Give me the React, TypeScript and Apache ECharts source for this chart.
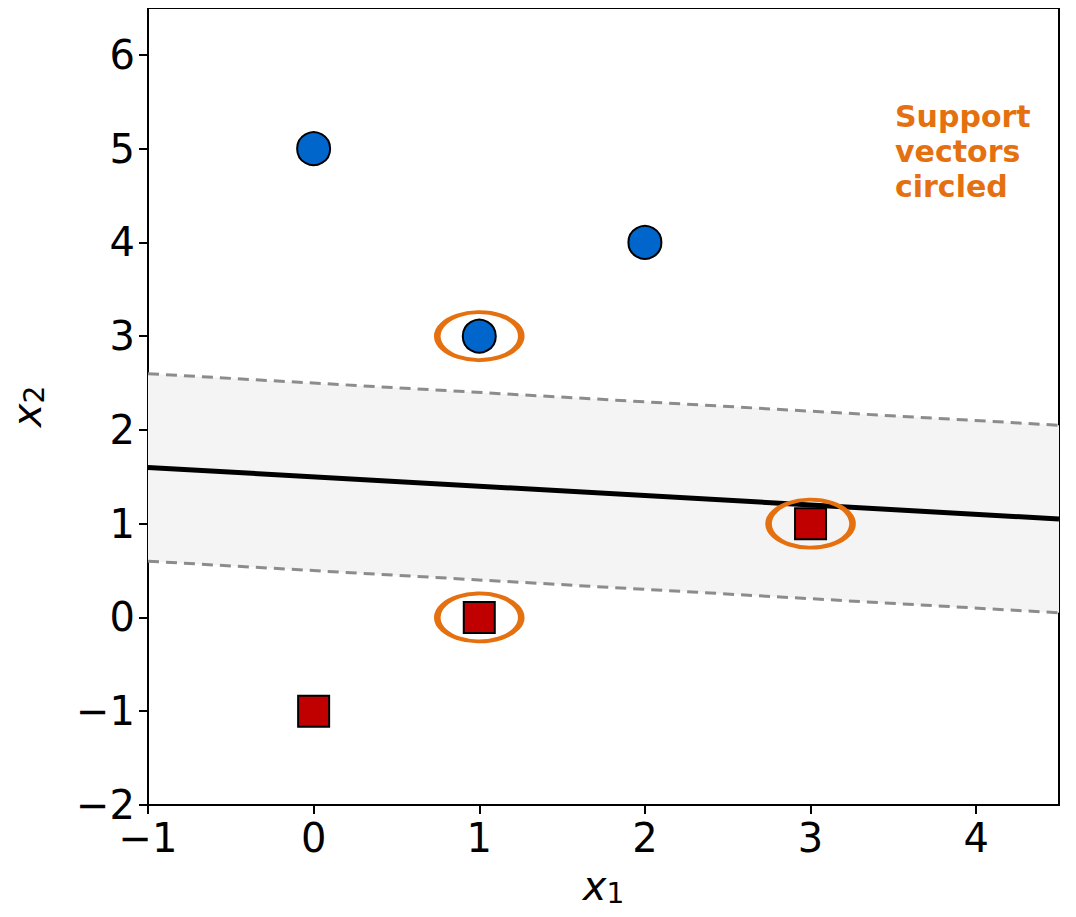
import React, { useEffect, useRef } from "react";
import * as echarts from "echarts";

const xRange = [-1, 4.5];
const boundaryY = [1.6, 1.05];
const upperMarginY = [2.6, 2.05];
const lowerMarginY = [0.6, 0.05];
const classA = [[0, 5], [2, 4], [1, 3]];
const classB = [[1, 0], [3, 1], [0, -1]];
const supportVectors = [[1, 3], [1, 0], [3, 1]];
const noteLines = ["Support", "vectors", "circled"];

const ORANGE = "#e5700f";
const FONT = "DejaVu Sans";

export default function App() {
  const ref = useRef<HTMLDivElement>(null);
  useEffect(() => {
    const chart = echarts.init(ref.current!, null, { renderer: "svg" });
    const minus = (v: number) => String(v).replace("-", "\u2212");
    const line = (ys: number[]) => xRange.map((x, i) => [x, ys[i]]);
    const nameRich = {
      x: { fontSize: 40, fontStyle: "italic", fontFamily: FONT, color: "#000" },
      s: { fontSize: 28, fontFamily: FONT, color: "#000", padding: [14, 0, 0, 0] },
    };
    chart.setOption({
      animation: false,
      backgroundColor: "#fff",
      grid: {
        left: 148, right: 17, top: 8, bottom: 112, show: true, borderColor: "#000", borderWidth: 2,
        backgroundColor: "transparent", containLabel: false, outerBoundsMode: "none",
      },
      xAxis: {
        type: "value", min: -1, max: 4.5, interval: 1,
        splitLine: { show: false },
        axisLine: { show: true, onZero: false, lineStyle: { color: "#000", width: 2 } },
        axisTick: { show: true, length: 9, lineStyle: { color: "#000", width: 2 } },
        axisLabel: { color: "#000", fontSize: 40, fontFamily: FONT, margin: 13, formatter: minus, showMaxLabel: false },
        name: "{x|x}{s|1}", nameLocation: "middle", nameGap: 60,
        nameTextStyle: { rich: nameRich },
      },
      yAxis: {
        type: "value", min: -2, max: 6.5, interval: 1,
        splitLine: { show: false },
        axisLine: { show: true, onZero: false, lineStyle: { color: "#000", width: 2 } },
        axisTick: { show: true, length: 9, lineStyle: { color: "#000", width: 2 } },
        axisLabel: { color: "#000", fontSize: 40, fontFamily: FONT, margin: 13, formatter: minus, showMaxLabel: false },
        name: "{x|x}{s|2}", nameLocation: "middle", nameGap: 100, nameRotate: 90,
        nameTextStyle: { rich: nameRich },
      },
      series: [
        {
          type: "custom", z: 1, silent: true,
          data: xRange.map((x, i) => [x, lowerMarginY[i], upperMarginY[i]]),
          renderItem: (params: any, api: any) => {
            if (params.dataIndex !== 0) return null;
            const pts = [
              api.coord([xRange[0], lowerMarginY[0]]),
              api.coord([xRange[1], lowerMarginY[1]]),
              api.coord([xRange[1], upperMarginY[1]]),
              api.coord([xRange[0], upperMarginY[0]]),
            ];
            return { type: "polygon", shape: { points: pts }, style: { fill: "#f4f4f4" } };
          },
        },
        { type: "line", z: 2, data: line(upperMarginY), symbol: "none", lineStyle: { color: "#8c8c8c", width: 3, type: [11, 7] } },
        { type: "line", z: 2, data: line(lowerMarginY), symbol: "none", lineStyle: { color: "#8c8c8c", width: 3, type: [11, 7] } },
        { type: "line", z: 3, data: line(boundaryY), symbol: "none", lineStyle: { color: "#000", width: 5 } },
        {
          type: "scatter", z: 4, data: supportVectors, symbol: "circle", symbolSize: [84, 48],
          itemStyle: { color: "rgba(0,0,0,0)", borderColor: ORANGE, borderWidth: 5, opacity: 1 },
        },
        {
          type: "scatter", z: 5, data: classA, symbol: "circle", symbolSize: 33,
          itemStyle: { color: "#0066cc", borderColor: "#000", borderWidth: 2, opacity: 1 },
        },
        {
          type: "scatter", z: 5, data: classB, symbol: "rect", symbolSize: 31,
          itemStyle: { color: "#c00000", borderColor: "#000", borderWidth: 2, opacity: 1 },
        },
      ],
      graphic: noteLines.map((t, i) => ({
        type: "text", left: 895, top: 101 + i * 35, z: 10,
        style: { text: t, fill: ORANGE, font: `bold 30px "${FONT}"` },
      })),
    });
    return () => chart.dispose();
  }, []);
  return <div ref={ref} style={{ width: 1076, height: 917, margin: -8 }} />;
}
